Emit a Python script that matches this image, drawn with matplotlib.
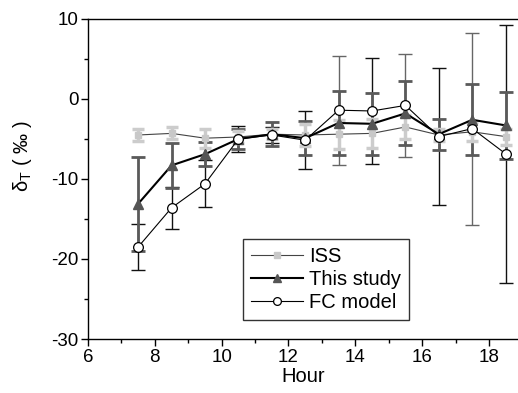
import numpy as np
import matplotlib.pyplot as plt
from matplotlib.ticker import MultipleLocator

plt.rcParams['font.family'] = ['Liberation Sans', 'DejaVu Sans']
plt.rcParams['mathtext.default'] = 'regular'
plt.rcParams['axes.unicode_minus'] = False

# hourly values
hours = [7.5, 8.5, 9.5, 10.5, 11.5, 12.5, 13.5, 14.5, 15.5, 16.5, 17.5, 18.5]

iss = [-4.5, -4.3, -4.9, -4.75, -4.4, -4.5, -4.4, -4.3, -3.5, -4.5, -4.1, -4.7]
iss_err = [0.7, 0.75, 1.2, 0.8, 0.6, 1.4, 1.8, 1.8, 1.5, 0.8, 1.2, 1.0]

study = [-13.1, -8.3, -6.9, -5.0, -4.4, -4.9, -3.0, -3.1, -1.8, -4.4, -2.6, -3.3]
study_err = [5.9, 2.8, 1.5, 1.3, 1.5, 2.1, 4.0, 3.85, 4.0, 1.95, 4.45, 4.2]

fc = [-18.5, -13.6, -10.6, -5.0, -4.5, -5.15, -1.4, -1.5, -0.8, -4.7, -3.7, -6.85]
fc_err = [2.9, 2.6, 2.95, 1.6, 1.0, 3.6, 6.8, 6.65, 6.4, 8.6, 12.0, 16.15]

# a few of the FC bars are printed in grey
fc_bar_colors = ['#111111'] * 6 + ['#666666', '#111111', '#666666', '#111111', '#666666', '#111111']

fig = plt.figure(figsize=(5.18, 3.93), dpi=100)
ax = fig.add_axes([0.17, 0.1374, 0.83, 0.8143])

# error bars
for h, v, e, c in zip(hours, fc, fc_err, fc_bar_colors):
    ax.errorbar(h, v, yerr=e, fmt='none', ecolor=c, elinewidth=1.0,
                capsize=5, capthick=1.0, zorder=2)
ax.errorbar(hours, study, yerr=study_err, fmt='none', ecolor='#5a5a5a',
            elinewidth=2.0, capsize=5, capthick=2.0, zorder=3)
ax.errorbar(hours, iss, yerr=iss_err, fmt='none', ecolor='#cccccc',
            elinewidth=2.5, capsize=4, capthick=2.5, zorder=4)

# series lines
ax.plot(hours, iss, '-s', color='#444444', lw=0.8, ms=5,
        mfc='#c8c8c8', mec='#c8c8c8', label='ISS', zorder=5)
ax.plot(hours, study, '-^', color='black', lw=1.5, ms=6.5,
        mfc='#555555', mec='#555555', label='This study', zorder=6)
ax.plot(hours, fc, '-o', color='black', lw=0.8, ms=7,
        mfc='white', mec='black', mew=0.9, label='FC model', zorder=7)

ax.set_xlim(6, 18.87)
ax.set_ylim(-30, 10)
ax.xaxis.set_major_locator(MultipleLocator(2))
ax.xaxis.set_minor_locator(MultipleLocator(1))
ax.yaxis.set_major_locator(MultipleLocator(10))
ax.yaxis.set_minor_locator(MultipleLocator(5))
ax.tick_params(which='major', direction='out', length=5, width=1, labelsize=13.5,
               top=False, right=False, pad=2)
ax.tick_params(which='minor', direction='out', length=3, width=1,
               top=False, right=False)
ax.spines['right'].set_visible(False)
for s in ['left', 'bottom', 'top']:
    ax.spines[s].set_linewidth(1.0)

ax.set_xlabel('Hour', fontsize=14.5, labelpad=1)
ax.set_ylabel('δ$_{T}$ ( ‰ )', fontsize=14.5)
ax.yaxis.set_label_coords(-0.125, 0.57)

leg = ax.legend(loc='lower left', bbox_to_anchor=(0.36, 0.06), fontsize=14.5,
                frameon=True, fancybox=False, edgecolor='black',
                handlelength=2.6, handletextpad=0.3, borderpad=0.4,
                labelspacing=0.2, borderaxespad=0, markerscale=0.8)
leg.get_frame().set_linewidth(1.0)

fig.savefig('out.png', dpi=100)
